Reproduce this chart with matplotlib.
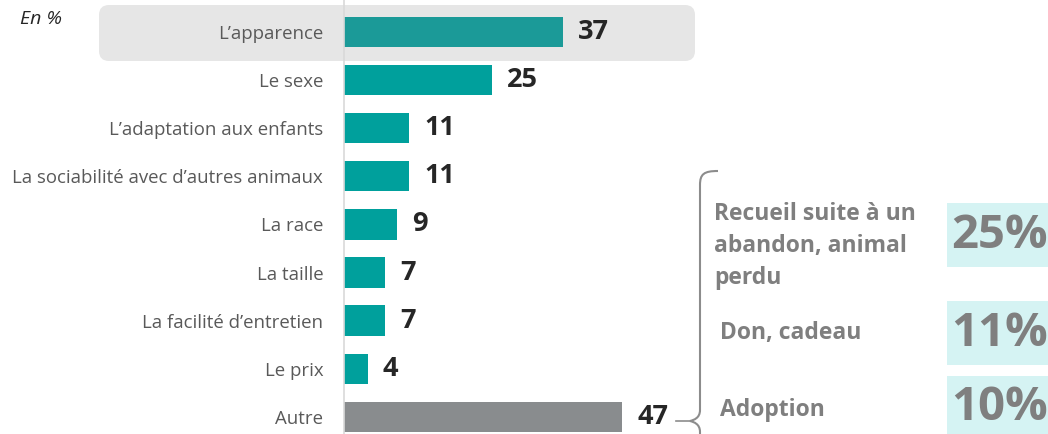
import matplotlib
matplotlib.use("Agg")
import matplotlib.pyplot as plt
from matplotlib.patches import FancyBboxPatch, Rectangle
from matplotlib.path import Path
from matplotlib.patches import PathPatch

plt.rcParams['font.family'] = ['Open Sans', 'DejaVu Sans']

# data
categories = ["L\u2019apparence", "Le sexe", "L\u2019adaptation aux enfants",
              "La sociabilit\u00e9 avec d\u2019autres animaux", "La race", "La taille",
              "La facilit\u00e9 d\u2019entretien", "Le prix", "Autre"]
values = [37, 25, 11, 11, 9, 7, 7, 4, 47]
bar_colors = ["#1b9a98"] + ["#00a09c"] * 7 + ["#898c8e"]

autre_labels = ["Recueil suite \u00e0 un\nabandon, animal\nperdu", "Don, cadeau", "Adoption"]
autre_pcts = ["25%", "11%", "10%"]

W, H = 1048, 434
fig = plt.figure(figsize=(W / 100, H / 100), dpi=100)

# overlay in pixel coordinates for decorations
ov = fig.add_axes([0, 0, 1, 1], zorder=0)
ov.set_xlim(0, W)
ov.set_ylim(H, 0)
ov.axis("off")

ax = fig.add_axes([344 / W, 0, (W - 344) / W, 1], zorder=1)
ax.patch.set_alpha(0)
px_per_unit = 5.92
ax.set_xlim(0, (W - 344) / px_per_unit)
row = 48.1
ax.set_ylim((H - 32) / row, -32 / row)

y = list(range(len(categories)))
ax.barh(y, values, height=0.63, color=bar_colors)
for yi, v in zip(y, values):
    ax.annotate(str(v), (v, yi), xytext=(11, 0), textcoords="offset points",
                ha="left", va="center", fontsize=19.5, fontweight="bold", color="#262626")

ax.set_yticks(y)
ax.set_yticklabels(categories, fontsize=13.4, color="#595959")
ax.tick_params(axis="y", length=0, pad=15)
ax.set_xticks([])
for s in ["top", "right", "bottom"]:
    ax.spines[s].set_visible(False)
ax.spines["left"].set_color("#d9d9d9")
ax.spines["left"].set_linewidth(1.2)

# highlight box
ov.add_patch(FancyBboxPatch((107, 13), 580, 40, boxstyle="round,pad=8,rounding_size=10",
                            fc="#e6e6e6", ec="none"))
ov.text(20, 19, "En %", fontsize=14, style="italic", color="#262626", va="center")

# brace
verts = [(718, 171), (704, 171), (700, 174), (700, 185),
         (700, 410), (700, 418), (694, 420), (690, 421),
         (694, 422), (700, 424), (700, 432), (700, 440)]
codes = [Path.MOVETO, Path.CURVE4, Path.CURVE4, Path.CURVE4,
         Path.LINETO, Path.CURVE4, Path.CURVE4, Path.CURVE4,
         Path.CURVE4, Path.CURVE4, Path.CURVE4, Path.LINETO]
ov.add_patch(PathPatch(Path(verts, codes), fc="none", ec="#8c8c8c", lw=1.5))
ov.plot([676, 690], [421, 421], color="#8c8c8c", lw=1.2)

# breakdown of "Autre"
label_pos = [(714, 246), (720, 333), (720, 410)]
boxes = [(947, 203, 101, 64), (947, 301, 101, 64), (947, 376, 101, 60)]
for lab, pct, (tx, ty), (bx, by, bw, bh) in zip(autre_labels, autre_pcts, label_pos, boxes):
    ov.text(tx, ty, lab, fontsize=16.5, fontweight="bold", color="#7f7f7f",
            va="center", ha="left", linespacing=1.45)
    ov.add_patch(Rectangle((bx, by), bw, bh, fc="#d5f3f3", ec="none"))
    ov.text(bx + bw / 2 + 2, by + bh / 2 + 1, pct, fontsize=34, fontweight="bold",
            color="#7f7f7f", ha="center", va="center")

fig.savefig("out.png", dpi=100)
